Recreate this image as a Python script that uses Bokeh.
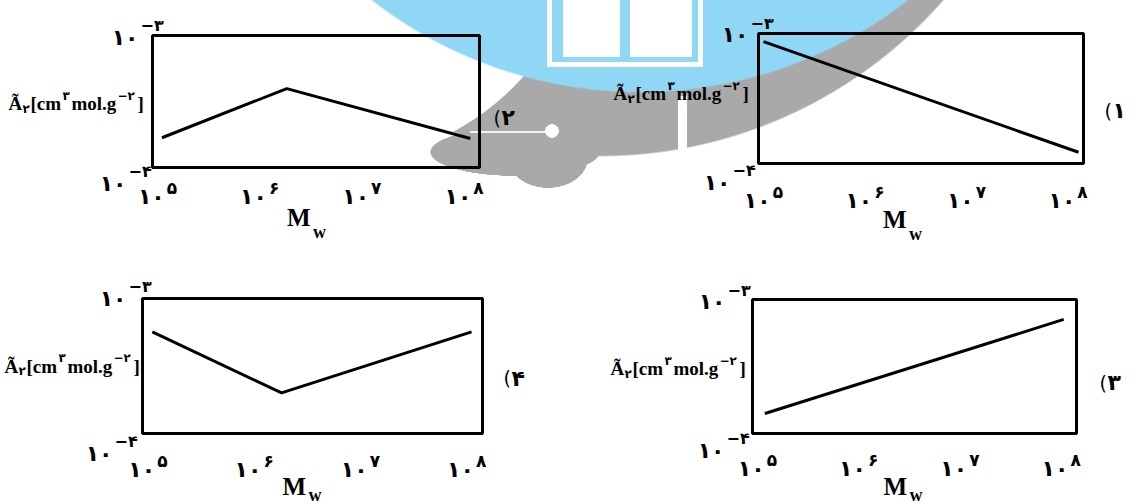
import math
from bokeh.plotting import figure
from bokeh.models import ColumnDataSource, Range1d
from bokeh.layouts import row, column
from bokeh.core.properties import value
from bokeh.embed import file_html
from bokeh.resources import INLINE

# ---------------- data ----------------
MW_TICKS = [1e5, 1e6, 1e7, 1e8]
TICK_BASE = ["۱۰", "۱۰", "۱۰", "۱۰"]
TICK_EXP = ["۵", "۶", "۷", "۸"]
X_LIMITS = [10 ** 4.89, 10 ** 8.09]
Y_LIMITS = [1e-4, 1e-3]
Y_BASE = ["۱۰", "۱۰"]
Y_EXP = ["−۴", "−۳"]
Y_TITLE_PARTS = ["Ã", "۲", "[cm", "۳", "mol.g", "−۲", "]"]
X_TITLE_PARTS = ["M", "w"]
PANEL_DIGITS = {"p2": "۲", "p1": "۱", "p4": "۴", "p3": "۳"}
PAREN = "("

P2_MW = [9.6e4, 1.6e6, 1.0e8]
P2_A2 = [1.68e-4, 3.96e-4, 1.66e-4]
P1_MW = [8.7e4, 1.1e8]
P1_A2 = [8.67e-4, 1.22e-4]
P4_MW = [9.6e4, 1.58e6, 9.7e7]
P4_A2 = [5.66e-4, 2.0e-4, 5.66e-4]
P3_MW = [1.03e5, 9.2e7]
P3_A2 = [1.41e-4, 7.1e-4]

# ---------------- styles ----------------
SERIF = "Liberation Serif"
DIGIT = "DejaVu Sans"

YT_DX = [0, 14, 22, 54, 63, 109, 129]
YT_DY = [0, 5, 0, -8, 0, -8, 0]
YT_SIZE = ["19px", "12px", "19px", "12px", "19px", "12px", "19px"]
YT_FONT = [SERIF, DIGIT, SERIF, DIGIT, SERIF, DIGIT, SERIF]

# figure size and box (frame of the axes) position inside each figure, in px
CFG = {
    "p2": dict(w=567, h=248, box=(152, 479, 35, 167), xt=29,
               top=(-14, 2, -12, -10), bot=(-26, 16, -24, 4),
               yt=(-144, 2), mw=(-29, 50, 14), nm=(14, 16)),
    "p1": dict(w=567, h=248, box=(191, 516, 33, 163), xt=37,
               top=(-10, 1, -8, -10), bot=(-28, 19, -26, 7),
               yt=(-145, -5), mw=(-38, 56, 14), nm=(21, 12)),
    "p4": dict(w=567, h=255, box=(142, 482, 50, 185), xt=36,
               top=(-16, 0, -14, -12), bot=(-30, 20, -28, 8),
               yt=(-138, 0), mw=(-30, 53, 8), nm=(21, 12)),
    "p3": dict(w=567, h=255, box=(185, 509, 51, 185), xt=35,
               top=(-27, 2, -25, -9), bot=(-28, 17, -26, 5),
               yt=(-142, 2), mw=(-31, 53, 8), nm=(23, 16)),
}

BLUE = "#8fd7f4"
GREY = "#a9a9a9"
WATERMARK = ", ".join([
    "radial-gradient(circle 7px at 552px 131px, #fff 95%, transparent 100%)",
    "linear-gradient(#f4f4f4, #f4f4f4) 470px 131px / 82px 2px no-repeat",
    "linear-gradient(#fff, #fff) 678px 96px / 9px 64px no-repeat",
    "linear-gradient(#fff, #fff) 563px 0px / 57px 57px no-repeat",
    "linear-gradient(#fff, #fff) 630px 0px / 62px 57px no-repeat",
    f"linear-gradient({BLUE}, {BLUE}) 552px 0px / 146px 62px no-repeat",
    "linear-gradient(#fff, #fff) 547px 0px / 156px 67px no-repeat",
    f"radial-gradient(circle 438px at 640px -345px, {BLUE} 99.6%, transparent 100%)",
    f"radial-gradient(ellipse 85px 24px at 515px 152px, {GREY} 99%, transparent 100%)",
    f"radial-gradient(ellipse 40px 30px at 548px 158px, {GREY} 99%, transparent 100%)",
    "radial-gradient(circle 254px at 334px -92px, #fff 99.6%, transparent 100%)",
    f"radial-gradient(circle 457px at 600px -300px, {GREY} 99.6%, transparent 100%)",
    "#ffffff",
])


def txt(p, xs, ys, texts, dx, dy, size, font, align="left", baseline="alphabetic", bold=True):
    src = ColumnDataSource(dict(x=xs, y=ys, text=texts))
    p.text(x="x", y="y", text="text", source=src, x_offset=dx, y_offset=dy,
           text_font_size=size, text_font=value(font), text_align=align,
           text_baseline=baseline, text_color="black",
           text_font_style="bold" if bold else "normal")


def make_panel(key, mw, a2):
    c = CFG[key]
    W, H = c["w"], c["h"]
    bx0, bx1, by0, by1 = c["box"]
    L0, L1 = math.log10(X_LIMITS[0]), math.log10(X_LIMITS[1])
    M0, M1 = math.log10(Y_LIMITS[0]), math.log10(Y_LIMITS[1])
    kx = (L1 - L0) / (bx1 - bx0)
    ky = (M1 - M0) / (by1 - by0)
    xr = Range1d(10 ** (L0 - bx0 * kx), 10 ** (L1 + (W - bx1) * kx))
    yr = Range1d(10 ** (M0 - (H - by1) * ky), 10 ** (M1 + by0 * ky))

    p = figure(width=W, height=H, x_axis_type="log", y_axis_type="log",
               x_range=xr, y_range=yr,
               x_axis_location=None, y_axis_location=None,
               toolbar_location=None, output_backend="svg",
               min_border=0, background_fill_color=None, border_fill_color=None,
               outline_line_color=None)
    p.grid.visible = False

    x0, x1 = X_LIMITS
    y0, y1 = Y_LIMITS
    xc = 10 ** ((L0 + L1) / 2)
    yc = 10 ** ((M0 + M1) / 2)

    # axes box
    p.quad(left=[x0], right=[x1], bottom=[y0], top=[y1], fill_color=None,
           line_color="black", line_width=3)
    # series
    p.line(mw, a2, line_color="black", line_width=3)

    # x tick labels
    n = len(MW_TICKS)
    txt(p, MW_TICKS, [y0] * n, TICK_BASE, 1, c["xt"], "22px", DIGIT, align="right")
    txt(p, MW_TICKS, [y0] * n, TICK_EXP, 3, c["xt"] - 9, "17px", DIGIT)

    # y limit labels
    for yv, base, exp, spec in [(y0, Y_BASE[0], Y_EXP[0], c["bot"]),
                                (y1, Y_BASE[1], Y_EXP[1], c["top"])]:
        bdx, bdy, edx, edy = spec
        txt(p, [x0], [yv], [base], bdx, bdy, "22px", DIGIT, align="right")
        txt(p, [x0], [yv], [exp], edx, edy, "16px", DIGIT)

    # y title
    sx, sy = c["yt"]
    for part, dx, dy, size, font in zip(Y_TITLE_PARTS, YT_DX, YT_DY, YT_SIZE, YT_FONT):
        txt(p, [x0], [yc], [part], sx + dx, sy + dy, size, font)

    # x title
    mdx, mdy, wdy = c["mw"]
    txt(p, [xc], [y0], [X_TITLE_PARTS[0]], mdx, mdy, "25px", SERIF)
    txt(p, [xc], [y0], [X_TITLE_PARTS[1]], mdx + 26, mdy + wdy, "18px", SERIF)

    # panel name
    ndx, ndy = c["nm"]
    txt(p, [x1], [yc], [PAREN], ndx, ndy, "19px", DIGIT, baseline="middle", bold=False)
    txt(p, [x1], [yc], [PANEL_DIGITS[key]], ndx + 8, ndy, "22px", DIGIT, baseline="middle")
    return p


p2 = make_panel("p2", P2_MW, P2_A2)
p1 = make_panel("p1", P1_MW, P1_A2)
p4 = make_panel("p4", P4_MW, P4_A2)
p3 = make_panel("p3", P3_MW, P3_A2)

layout = column(row(p2, p1, spacing=0), row(p4, p3, spacing=0), spacing=0,
                styles={"background": WATERMARK})

open("out.html", "w").write(file_html(layout, INLINE))
